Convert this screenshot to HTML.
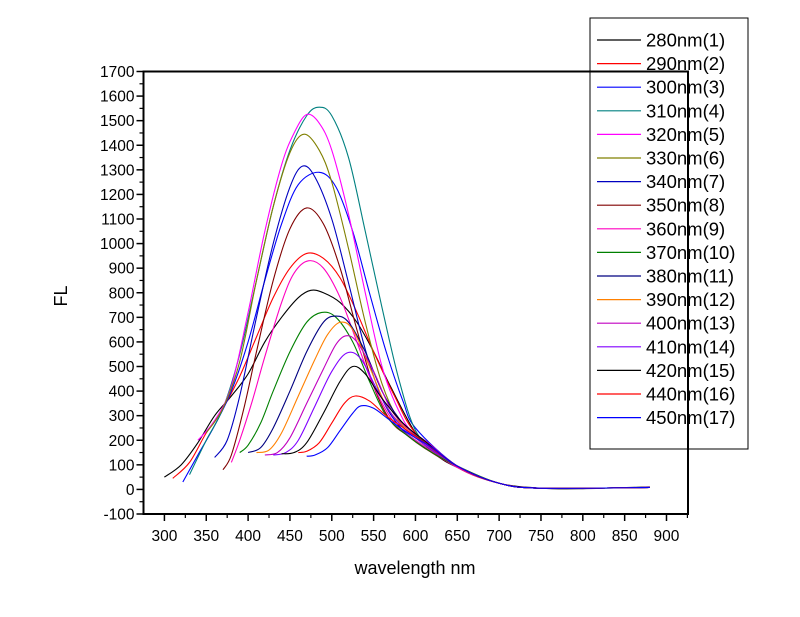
<!DOCTYPE html>
<html><head><meta charset="utf-8"><style>
html,body{margin:0;padding:0;background:#fff;}
svg{display:block;font-family:"Liberation Sans",Arial,sans-serif;}
</style></head><body>
<svg id="chart" width="800" height="617" viewBox="0 0 800 617" xmlns="http://www.w3.org/2000/svg">
<rect x="0" y="0" width="800" height="617" fill="#fff"/>
<g id="series"></g>
<g id="axes"></g>
<g id="legend"></g>
<text x="415" y="574" font-size="18" text-anchor="middle">wavelength nm</text>
<text x="0" y="0" font-size="18" text-anchor="middle" transform="translate(67,296) rotate(-90)">FL</text>
</svg>
<script>
const seriesLabels = ["280nm(1)","290nm(2)","300nm(3)","310nm(4)","320nm(5)","330nm(6)","340nm(7)","350nm(8)","360nm(9)","370nm(10)","380nm(11)","390nm(12)","400nm(13)","410nm(14)","420nm(15)","440nm(16)","450nm(17)"];
const seriesColors = ["#000000","#ff0000","#0000ff","#008080","#ff00ff","#808000","#0000c0","#800000","#ff00c0","#008000","#000080","#ff8000","#c000c0","#8000ff","#000000","#ff0000","#0000ff"];
const wl1=[300,320,340,360,380,400,420,440,460,475,490,510,530,550,570,600,625,650,700,750,800,880];
const fl1=[50,100,190,300,380,470,600,700,780,810,800,760,680,560,420,230,140,90,25,5,3,10];
const wl2=[310,330,350,370,390,410,430,450,470,490,510,530,550,575,600,650,700,750,880];
const fl2=[45,110,230,330,460,620,780,900,960,940,860,720,560,380,230,90,25,5,8];
const wl3=[322,340,360,380,400,420,440,460,485,505,525,545,565,585,600,650,700,750,880];
const fl3=[30,140,260,400,600,850,1080,1240,1290,1230,1050,800,560,360,250,95,25,5,8];
const wl4=[330,350,370,390,410,430,450,470,485,500,520,540,560,580,600,625,650,700,750,880];
const fl4=[60,200,330,550,850,1150,1380,1520,1555,1520,1350,1050,740,450,240,150,95,25,5,8];
const wl5=[340,360,380,400,420,440,455,470,485,500,520,540,560,580,600,650,700,750,880];
const fl5=[200,280,420,720,1050,1320,1450,1525,1490,1380,1120,800,500,320,220,90,25,5,8];
const wl6=[350,370,390,410,430,450,467,485,500,520,540,560,580,600,650,700,750,880];
const fl6=[230,330,520,850,1150,1370,1445,1380,1250,980,680,430,280,210,90,25,5,8];
const wl7=[360,375,390,410,430,450,465,480,500,520,540,560,580,600,650,700,750,880];
const fl7=[130,200,380,700,1000,1230,1315,1270,1100,840,570,370,260,200,90,25,5,8];
const wl8=[370,380,395,410,430,450,470,490,510,530,550,570,590,610,650,700,750,880];
const fl8=[80,140,330,560,850,1060,1145,1080,900,650,420,280,220,170,90,25,5,8];
const wl9=[380,390,405,420,440,455,472,490,510,530,550,575,600,650,700,750,880];
const fl9=[110,200,360,540,760,880,930,900,780,600,420,270,200,90,25,5,8];
const wl10=[390,400,415,430,450,470,488,505,525,545,565,590,620,650,700,750,880];
const fl10=[150,180,270,400,560,680,720,700,600,440,300,220,150,95,25,5,8];
const wl11=[400,415,430,450,470,490,505,520,540,560,580,600,650,700,750,880];
const fl11=[150,170,250,400,560,680,705,680,560,400,290,220,95,25,5,8];
const wl12=[410,425,440,460,480,495,510,525,545,565,585,610,650,700,750,880];
const fl12=[150,160,230,380,530,630,680,650,500,340,260,200,95,25,5,8];
const wl13=[420,435,450,470,490,505,517,530,550,570,590,615,650,700,750,880];
const fl13=[140,150,210,350,490,590,625,600,480,330,250,190,95,25,5,8];
const wl14=[430,445,460,480,500,518,535,555,575,600,650,700,750,880];
const fl14=[140,150,200,340,480,555,530,400,290,210,95,25,5,8];
const wl15=[440,455,470,490,510,525,540,560,585,610,650,700,750,880];
const fl15=[145,150,190,310,440,500,470,370,270,200,95,25,5,8];
const wl16=[460,470,485,500,515,528,545,565,590,615,650,700,750,880];
const fl16=[150,155,190,270,350,380,360,300,240,180,95,25,5,8];
const wl17=[470,480,495,510,525,535,550,570,595,620,650,700,750,880];
const fl17=[135,140,170,240,310,340,330,280,220,170,95,25,5,8];
const xTicks=[300,350,400,450,500,550,600,650,700,750,800,850,900];
const yTicks=[-100,0,100,200,300,400,500,600,700,800,900,1000,1100,1200,1300,1400,1500,1600,1700];

const allWl=[wl1,wl2,wl3,wl4,wl5,wl6,wl7,wl8,wl9,wl10,wl11,wl12,wl13,wl14,wl15,wl16,wl17];
const allFl=[fl1,fl2,fl3,fl4,fl5,fl6,fl7,fl8,fl9,fl10,fl11,fl12,fl13,fl14,fl15,fl16,fl17];
const L=143.5,R=688,T=71.5,B=514;
const X0=275,X1=925.7,Y0=-100,Y1=1700;
function sx(v){return L+(v-X0)/(X1-X0)*(R-L);}
function sy(v){return B-(v-Y0)/(Y1-Y0)*(B-T);}
const NS="http://www.w3.org/2000/svg";
function mk(tag,attrs,parent){const e=document.createElementNS(NS,tag);for(const k in attrs)e.setAttribute(k,attrs[k]);parent.appendChild(e);return e;}
function smoothPath(pts){
  let d="M"+pts[0][0].toFixed(2)+","+pts[0][1].toFixed(2);
  for(let i=0;i<pts.length-1;i++){
    const p0=pts[Math.max(0,i-1)],p1=pts[i],p2=pts[i+1],p3=pts[Math.min(pts.length-1,i+2)];
    const c1x=p1[0]+(p2[0]-p0[0])/6,c1y=p1[1]+(p2[1]-p0[1])/6;
    const c2x=p2[0]-(p3[0]-p1[0])/6,c2y=p2[1]-(p3[1]-p1[1])/6;
    d+="C"+c1x.toFixed(2)+","+c1y.toFixed(2)+" "+c2x.toFixed(2)+","+c2y.toFixed(2)+" "+p2[0].toFixed(2)+","+p2[1].toFixed(2);
  }
  return d;
}
const sg=document.getElementById('series');
for(let s=0;s<allWl.length;s++){
  const pts=allWl[s].map((w,i)=>[sx(w),sy(allFl[s][i])]);
  const p=mk('path',{d:smoothPath(pts),fill:"none",stroke:seriesColors[s],"stroke-width":"1.1"},sg);
  
  
}
// legend
const lg=document.getElementById('legend');
const box=mk('rect',{x:590,y:18,width:158,height:431,fill:"none",stroke:"#000","stroke-width":"1"},lg);


for(let s=0;s<seriesLabels.length;s++){
  const y=40+s*23.6;
  const ln=mk('line',{x1:597,x2:641,y1:y,y2:y,stroke:seriesColors[s],"stroke-width":"1.2"},lg);
  
  
  const t=mk('text',{x:646,y:y+6.5,"font-size":"18.5"},lg);
  t.textContent=seriesLabels[s];
  
  
}
// axes
const ax=document.getElementById('axes');
const frame=mk('rect',{x:L,y:T,width:R-L,height:B-T,fill:"none",stroke:"#000","stroke-width":"2"},ax);


for(const v of xTicks){
  const x=sx(v);
  const tk=mk('line',{x1:x,x2:x,y1:B,y2:B+7,stroke:"#000","stroke-width":"1.5"},ax);
  
  
  const tl=mk('text',{x:x,y:B+27,"font-size":"15.5","text-anchor":"middle"},ax);
  tl.textContent=v;
  
  
  if(v+25<X1){const m=sx(v+25);const mt=mk('line',{x1:m,x2:m,y1:B,y2:B+4,stroke:"#000","stroke-width":"1.2"},ax);
    
    }
}
for(const v of yTicks){
  const y=sy(v);
  const tk=mk('line',{x1:L-7,x2:L,y1:y,y2:y,stroke:"#000","stroke-width":"1.5"},ax);
  
  
  const tl=mk('text',{x:L-9,y:y+5.5,"font-size":"15.5","text-anchor":"end"},ax);
  tl.textContent=v;
  
  
  if(v+50<Y1){const m=sy(v+50);const mt=mk('line',{x1:L-4,x2:L,y1:m,y2:m,stroke:"#000","stroke-width":"1.2"},ax);
    
    }
}
</script>
</body></html>
